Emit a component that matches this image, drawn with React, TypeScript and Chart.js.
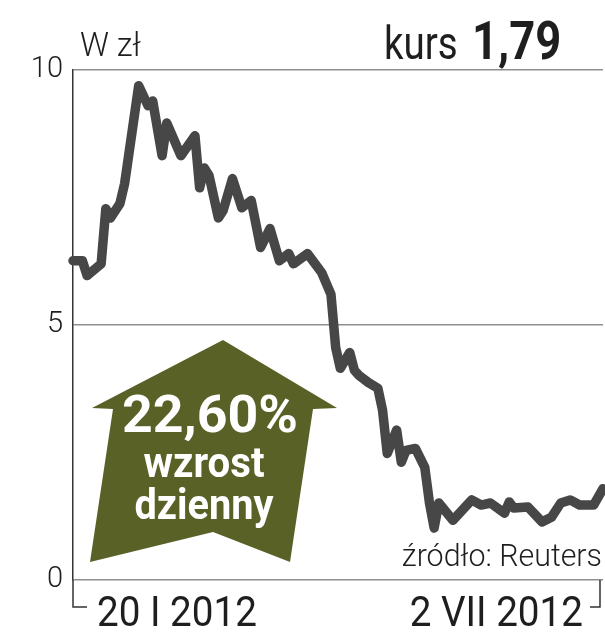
import React, { useEffect, useRef } from "react";
import { Chart, registerables } from "chart.js";

Chart.register(...registerables);

// ---- data ----
const tradingDay = [0, 2, 3, 6, 7, 8, 10, 11, 14, 16, 17, 19, 20, 23, 26, 27, 28, 29, 31, 32, 34, 36, 38, 40, 42, 44, 46, 47, 50, 53, 55, 56, 57, 59, 60, 61, 63, 65, 66, 67, 69, 70, 71, 73, 75, 76, 77, 78, 81, 85, 87, 89, 92, 93, 94, 97, 100, 102, 104, 106, 108, 111, 113];
const price = [6.26, 6.26, 5.97, 6.2, 7.28, 7.1, 7.38, 7.77, 9.69, 9.3, 9.39, 8.32, 8.96, 8.32, 8.71, 7.69, 8.08, 7.93, 7.1, 7.24, 7.87, 7.3, 7.44, 6.52, 6.89, 6.26, 6.4, 6.2, 6.4, 6.03, 5.6, 4.56, 4.15, 4.46, 4.11, 4.01, 3.87, 3.76, 3.33, 2.48, 2.94, 2.31, 2.54, 2.58, 2.21, 1.51, 1.02, 1.51, 1.17, 1.57, 1.47, 1.51, 1.31, 1.53, 1.41, 1.43, 1.14, 1.23, 1.51, 1.57, 1.47, 1.47, 1.79];
const yTicks = [0, 5, 10];
const dateLabels = ["20 I 2012", "2 VII 2012"];
const unitLabel = "W zł";
const rateLabel = "kurs";
const lastRate = "1,79";
const changeLines = ["22,60%", "wzrost", "dzienny"];
const sourceLabel = "źródło: Reuters";

const LINE_COLOR = "#474747";
const ARROW_COLOR = "#5a6126";
const TEXT_COLOR = "#1e1e1e";

function fitText(ctx: CanvasRenderingContext2D, text: string, cx: number, y: number, font: string, width: number) {
  ctx.save();
  ctx.font = font;
  const w = ctx.measureText(text).width;
  const sx = width / w;
  ctx.translate(cx, y);
  ctx.scale(sx, 1);
  ctx.textAlign = "center";
  ctx.fillText(text, 0, 0);
  ctx.restore();
}

function scaledText(ctx: CanvasRenderingContext2D, text: string, x: number, y: number, font: string, sx: number, align: CanvasTextAlign = "left") {
  ctx.save();
  ctx.font = font;
  ctx.translate(x, y);
  ctx.scale(sx, 1);
  ctx.textAlign = align;
  ctx.fillText(text, 0, 0);
  ctx.restore();
}

const decorPlugin = {
  id: "decor",
  beforeDatasetsDraw(chart: any) {
    const ctx: CanvasRenderingContext2D = chart.ctx;
    ctx.save();
    // arrow badge
    const pts = [[223, 340], [337, 408], [313, 409], [290, 562], [213, 532], [90, 562], [113, 409], [92, 408]];
    ctx.fillStyle = ARROW_COLOR;
    ctx.beginPath();
    pts.forEach((p, i) => (i === 0 ? ctx.moveTo(p[0], p[1]) : ctx.lineTo(p[0], p[1])));
    ctx.closePath();
    ctx.fill();
    ctx.fillStyle = "#ffffff";
    ctx.textBaseline = "alphabetic";
    fitText(ctx, changeLines[0], 210, 432, "bold 52px Roboto", 176);
    fitText(ctx, changeLines[1], 204, 477, "bold 42px Roboto", 121);
    fitText(ctx, changeLines[2], 204, 519, "bold 42px Roboto", 139);
    ctx.restore();
  },
  afterDraw(chart: any) {
    const ctx: CanvasRenderingContext2D = chart.ctx;
    const a = chart.chartArea;
    ctx.save();
    ctx.fillStyle = TEXT_COLOR;
    ctx.textBaseline = "alphabetic";
    // header
    scaledText(ctx, unitLabel, 80, 56, "300 34px Roboto", 0.95);
    scaledText(ctx, rateLabel, 384, 59, "400 47px Roboto", 0.82);
    scaledText(ctx, lastRate, 472, 59, "bold 54px Roboto", 0.84);
    // source
    scaledText(ctx, sourceLabel, 602, 566, "300 31px Roboto", 0.98, "right");
    // date brackets
    ctx.strokeStyle = "#333333";
    ctx.lineWidth = 1.5;
    ctx.beginPath();
    ctx.moveTo(a.left, a.bottom);
    ctx.lineTo(a.left, 607);
    ctx.lineTo(87, 607);
    ctx.moveTo(600, a.bottom);
    ctx.lineTo(600, 607);
    ctx.lineTo(590, 607);
    ctx.stroke();
    // date labels
    scaledText(ctx, dateLabels[0], 97, 626, "400 42px Roboto", 0.92, "left");
    scaledText(ctx, dateLabels[1], 583, 626, "400 42px Roboto", 0.92, "right");
    ctx.restore();
  },
};

export default function App() {
  const ref = useRef<HTMLCanvasElement | null>(null);

  useEffect(() => {
    if (!ref.current) return;
    const chart = new Chart(ref.current, {
      type: "line",
      data: {
        datasets: [
          {
            data: tradingDay.map((d, i) => ({ x: d, y: price[i] })),
            borderColor: LINE_COLOR,
            borderWidth: 9.5,
            pointRadius: 0,
            tension: 0,
            borderJoinStyle: "round",
            borderCapStyle: "round",
            clip: false as any,
          },
        ],
      },
      options: {
        animation: false,
        responsive: false,
        devicePixelRatio: 1,
        layout: { padding: { top: 70, bottom: 60, left: 0, right: 2 } },
        plugins: { legend: { display: false }, tooltip: { enabled: false }, title: { display: false } },
        scales: {
          x: { type: "linear", min: 0, max: 113, display: false },
          y: {
            min: 0,
            max: 10,
            afterBuildTicks: (s: any) => {
              s.ticks = yTicks.map((v) => ({ value: v }));
            },
            afterFit: (s: any) => {
              s.width = 73;
            },
            ticks: {
              padding: 10,
              color: TEXT_COLOR,
              font: { family: "Roboto", size: 29, weight: "300" as any },
            },
            grid: { color: "#8f8f8f", lineWidth: 1.5, drawTicks: false },
            border: { display: true, color: "#333333", width: 1.5 },
          },
        },
      },
      plugins: [decorPlugin],
    } as any);
    return () => chart.destroy();
  }, []);

  return (
    <div style={{ position: "absolute", left: 0, top: 0, width: 605, height: 640, background: "#ffffff" }}>
      <canvas ref={ref} width={605} height={640} style={{ display: "block" }} />
    </div>
  );
}
